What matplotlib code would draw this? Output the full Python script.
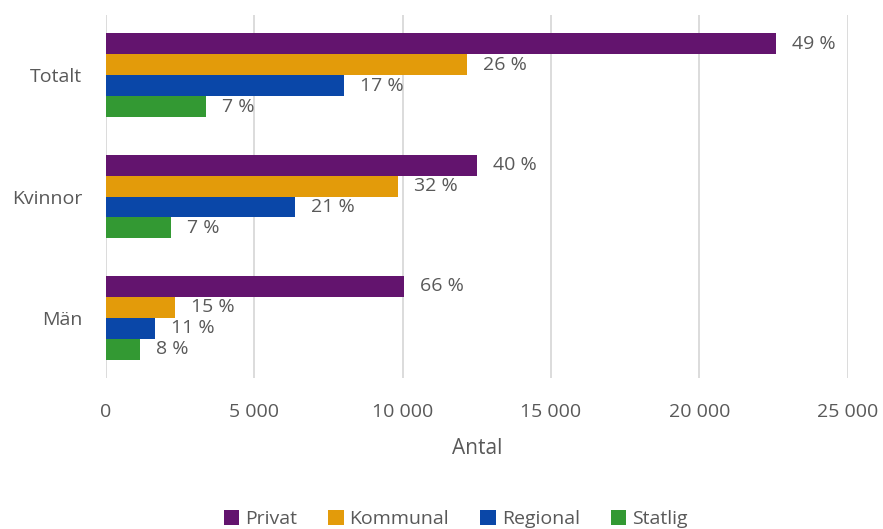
import numpy as np
import matplotlib.pyplot as plt

plt.rcParams['font.family'] = ['Open Sans', 'DejaVu Sans']

groups = ["Totalt", "Kvinnor", "Män"]
series = ["Privat", "Kommunal", "Regional", "Statlig"]
colors = ["#63146E", "#E39B0A", "#0A47A8", "#339933"]

privat = [22575, 12500, 10040]
kommunal = [12160, 9840, 2320]
regional = [8020, 6370, 1650]
statlig = [3370, 2190, 1150]
values = [privat, kommunal, regional, statlig]

privat_pct = ["49 %", "40 %", "66 %"]
kommunal_pct = ["26 %", "32 %", "15 %"]
regional_pct = ["17 %", "21 %", "11 %"]
statlig_pct = ["7 %", "7 %", "8 %"]
pcts = [privat_pct, kommunal_pct, regional_pct, statlig_pct]

text_col = "#595959"
fs = 14

fig = plt.figure(figsize=(8.83, 5.29), dpi=100)
ax = fig.add_axes([0.120, 0.285, 0.840, 0.687])

h = 0.173
y = np.arange(len(groups))
for i, (name, col) in enumerate(zip(series, colors)):
    pos = y - 1.5 * h + i * h
    ax.barh(pos, values[i], height=h, color=col, label=name, zorder=3)
    for p, v, t in zip(pos, values[i], pcts[i]):
        ax.text(v + 540, p, t, va="center", ha="left", fontsize=fs, color=text_col)

ax.set_ylim(2.5, -0.5)
ax.set_xlim(0, 25000)
ax.set_yticks(y)
ax.set_yticklabels(groups)
ax.set_xticks(np.arange(0, 25001, 5000))
ax.set_xticklabels(["0", "5 000", "10 000", "15 000", "20 000", "25 000"])
ax.tick_params(axis="both", length=0, labelsize=fs, labelcolor=text_col)
ax.tick_params(axis="x", pad=18)
ax.tick_params(axis="y", pad=17)
ax.grid(axis="x", color="#D9D9D9", linewidth=1.3, zorder=0)
for s in ax.spines.values():
    s.set_visible(False)
ax.set_xlabel("Antal", fontsize=fs + 1, color=text_col, labelpad=12)

fig.legend(loc="center", bbox_to_anchor=(0.516, 0.019), ncol=4, frameon=False,
           fontsize=fs, labelcolor=text_col, handlelength=0.8, handleheight=0.8,
           handletextpad=0.3, columnspacing=1.6)

fig.savefig("out.png", dpi=100)
